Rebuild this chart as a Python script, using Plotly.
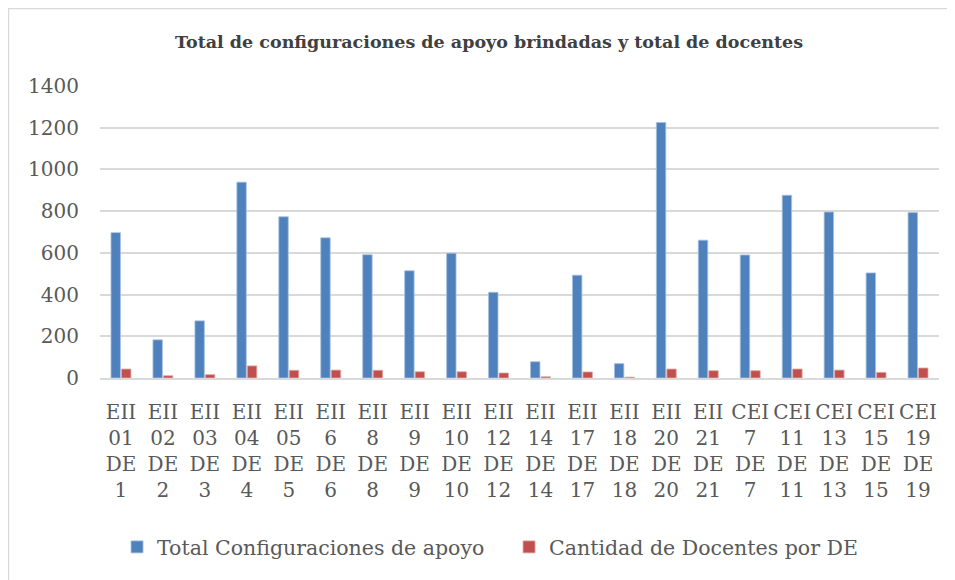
import plotly.graph_objects as go

categories = [
    "EII<br>01<br>DE<br>1", "EII<br>02<br>DE<br>2", "EII<br>03<br>DE<br>3",
    "EII<br>04<br>DE<br>4", "EII<br>05<br>DE<br>5", "EII<br>6<br>DE<br>6",
    "EII<br>8<br>DE<br>8", "EII<br>9<br>DE<br>9", "EII<br>10<br>DE<br>10",
    "EII<br>12<br>DE<br>12", "EII<br>14<br>DE<br>14", "EII<br>17<br>DE<br>17",
    "EII<br>18<br>DE<br>18", "EII<br>20<br>DE<br>20", "EII<br>21<br>DE<br>21",
    "CEI<br>7<br>DE<br>7", "CEI<br>11<br>DE<br>11", "CEI<br>13<br>DE<br>13",
    "CEI<br>15<br>DE<br>15", "CEI<br>19<br>DE<br>19",
]
total_configuraciones = [697, 183, 274, 939, 773, 672, 591, 514, 598, 411,
                         78, 493, 69, 1225, 661, 590, 876, 796, 504, 793]
cantidad_docentes = [43, 11, 16, 58, 37, 38, 37, 30, 30, 24,
                     6, 29, 4, 43, 35, 35, 43, 38, 27, 48]
y_ticks = [0, 200, 400, 600, 800, 1000, 1200, 1400]

FONT = "DejaVu Serif"
TXT = "#595959"

fig = go.Figure()
fig.add_trace(go.Bar(
    x=categories, y=total_configuraciones, name="Total Configuraciones de apoyo",
    marker=dict(color="#4F81BD", line=dict(color="#A7C0DE", width=0.8)),
))
fig.add_trace(go.Bar(
    x=categories, y=cantidad_docentes, name="Cantidad de Docentes por DE",
    marker=dict(color="#C0504D", line=dict(color="#E0A8A6", width=0.8)),
))

fig.update_layout(
    width=955, height=580,
    margin=dict(l=92, r=24, t=78, b=210),
    paper_bgcolor="white", plot_bgcolor="white",
    barmode="group", bargap=0.5, bargroupgap=0.1,
    title=dict(
        text="<b>Total de configuraciones de apoyo brindadas y total de docentes</b>",
        font=dict(family=FONT, size=17.5, color="#404040"),
        x=0.5037, xanchor="center", y=0.941, yanchor="middle",
    ),
    font=dict(family=FONT, size=20, color=TXT),
    legend=dict(
        orientation="h", x=0.0203, xanchor="left", y=-0.579, yanchor="middle",
        font=dict(family=FONT, size=20.5, color=TXT),
        itemwidth=30, traceorder="normal",
        entrywidth=347, entrywidthmode="pixels",
    ),
    showlegend=True,
)
fig.update_yaxes(
    range=[0, 1400], tickvals=y_ticks, showgrid=True, gridcolor="#D9D9D9",
    gridwidth=1.5, zeroline=False, showline=False, ticks="",
    ticklabelstandoff=20, tickfont=dict(family=FONT, size=20, color=TXT),
)
fig.update_xaxes(
    showline=True, linecolor="#D9D9D9", linewidth=1.8, ticks="",
    tickangle=0, ticklabelstandoff=15, tickfont=dict(family=FONT, size=20, color=TXT),
)
fig.add_shape(
    type="rect", xref="paper", yref="paper",
    x0=-0.1091, x1=1.2, y0=-1.2, y1=1.2654,
    line=dict(color="#D9D9D9", width=1.5), fillcolor="rgba(0,0,0,0)", layer="below",
)
fig.write_html("out.html")
